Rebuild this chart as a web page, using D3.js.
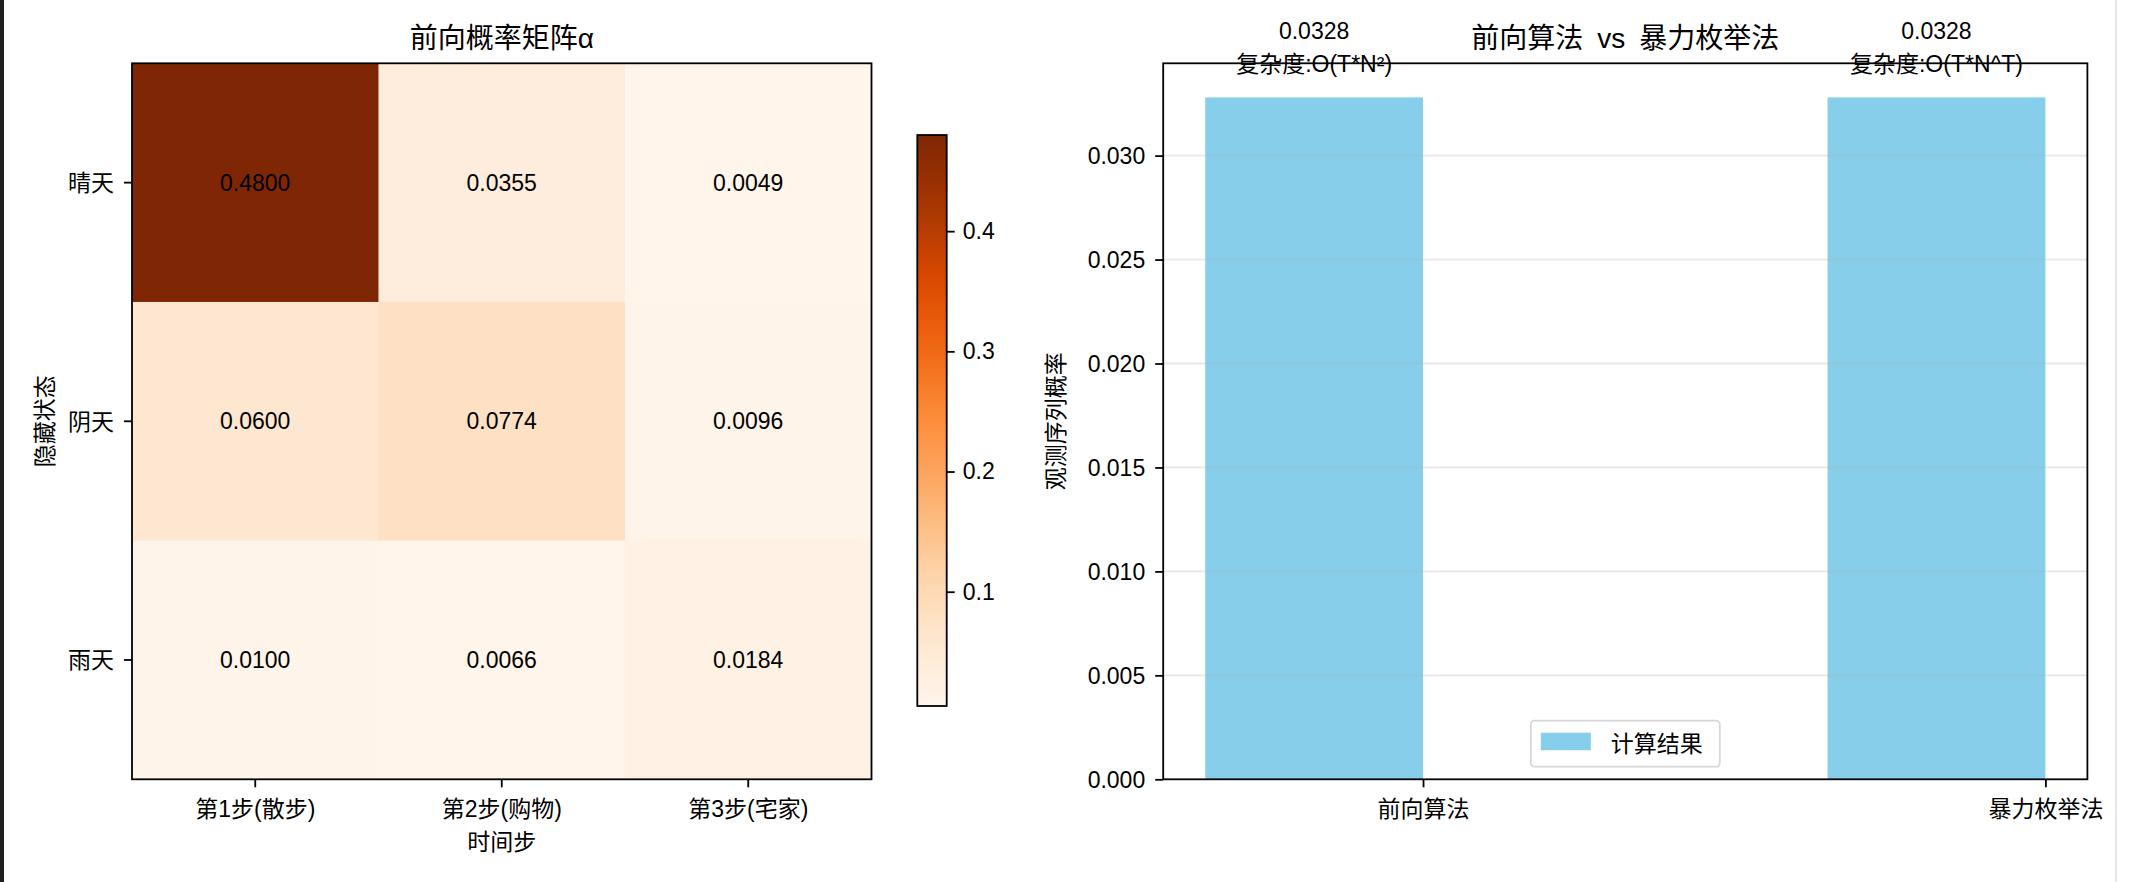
<!DOCTYPE html>
<html>
<head>
<meta charset="utf-8">
<script src="https://cdn.jsdelivr.net/npm/d3@7/dist/d3.min.js"></script>
<style>
  html, body { margin: 0; padding: 0; background: #fff; }
  svg text { font-family: "Liberation Sans", "Noto Sans CJK SC", sans-serif; fill: #000; }
</style>
</head>
<body>
<svg id="chart" width="2142" height="882"></svg>
<script>
// ---------------- data ----------------
const states = ["晴天", "阴天", "雨天"];
const steps = ["第1步(散步)", "第2步(购物)", "第3步(宅家)"];
const alphaRow1 = [0.4800, 0.0355, 0.0049];
const alphaRow2 = [0.0600, 0.0774, 0.0096];
const alphaRow3 = [0.0100, 0.0066, 0.0184];
const alphaMatrix = [alphaRow1, alphaRow2, alphaRow3];
const colorbarTicks = [0.1, 0.2, 0.3, 0.4];

const methods = ["前向算法", "暴力枚举法"];
const methodValues = [0.0328, 0.0328];
const complexities = ["O(T*N²)", "O(T*N^T)"];
const barTicks = [0, 0.005, 0.010, 0.015, 0.020, 0.025, 0.030];
const legendLabel = "计算结果";

const orangesStops = ["#fff5eb","#fee6ce","#fdd0a2","#fdae6b","#fd8d3c","#f16913","#d94801","#a63603","#7f2704"];

// ---------------- setup ----------------
const svg = d3.select("#chart");
const FS = 23, TFS = 28;

svg.append("rect").attr("x", 0).attr("y", 0).attr("width", 4).attr("height", 882).attr("fill", "#1f1f1f");
svg.append("rect").attr("x", 2115).attr("y", 0).attr("width", 2).attr("height", 882).attr("fill", "#e6e6e6");

// ================= Heatmap =================
const hm = { left: 132, right: 871.5, top: 63.3, bottom: 779.3 };
const flat = alphaMatrix.flat();
const vmin = d3.min(flat), vmax = d3.max(flat);
const cmap = d3.scaleLinear()
  .domain(orangesStops.map((_, i) => i / (orangesStops.length - 1)))
  .range(orangesStops)
  .interpolate(d3.interpolateRgb);
const norm = d3.scaleLinear().domain([vmin, vmax]).range([0, 1]).clamp(true);
const color = v => cmap(norm(v));

const xh = d3.scaleBand().domain(steps).range([hm.left, hm.right]).padding(0);
const yh = d3.scaleBand().domain(states).range([hm.top, hm.bottom]).padding(0);

const gHm = svg.append("g");
const cells = [];
alphaMatrix.forEach((row, i) => row.forEach((v, j) => cells.push({ s: states[i], t: steps[j], v })));

gHm.selectAll("rect.cell").data(cells).enter().append("rect")
  .attr("class", "cell")
  .attr("x", d => xh(d.t)).attr("y", d => yh(d.s))
  .attr("width", xh.bandwidth() + 0.5).attr("height", yh.bandwidth() + 0.5)
  .attr("fill", d => color(d.v));

gHm.selectAll("text.val").data(cells).enter().append("text")
  .attr("class", "val")
  .attr("x", d => xh(d.t) + xh.bandwidth() / 2)
  .attr("y", d => yh(d.s) + yh.bandwidth() / 2)
  .attr("text-anchor", "middle").attr("dominant-baseline", "central")
  .style("font-size", FS + "px")
  .text(d => d.v.toFixed(4));

// frame
gHm.append("rect").attr("x", hm.left).attr("y", hm.top)
  .attr("width", hm.right - hm.left).attr("height", hm.bottom - hm.top)
  .attr("fill", "none").attr("stroke", "#000").attr("stroke-width", 1.8);

// axes
const axBottomH = gHm.append("g").attr("transform", `translate(0,${hm.bottom})`)
  .call(d3.axisBottom(xh).tickSize(8).tickPadding(8));
const axLeftH = gHm.append("g").attr("transform", `translate(${hm.left},0)`)
  .call(d3.axisLeft(yh).tickSize(8).tickPadding(10));
[axBottomH, axLeftH].forEach(a => {
  a.select(".domain").remove();
  a.selectAll(".tick line").attr("stroke", "#000").attr("stroke-width", 1.8);
  a.selectAll(".tick text").style("font-size", FS + "px").attr("fill", "#000");
});
axBottomH.selectAll(".tick text").attr("dy", "0.95em");
axLeftH.selectAll(".tick text").attr("dy", "0.36em");

gHm.append("text").attr("x", (hm.left + hm.right) / 2).attr("y", 48)
  .attr("text-anchor", "middle").style("font-size", TFS + "px").text("前向概率矩阵α");
gHm.append("text").attr("x", (hm.left + hm.right) / 2).attr("y", 850)
  .attr("text-anchor", "middle").style("font-size", FS + "px").text("时间步");
gHm.append("text")
  .attr("transform", `translate(53,${(hm.top + hm.bottom) / 2}) rotate(-90)`)
  .attr("text-anchor", "middle").style("font-size", FS + "px").text("隐藏状态");

// colorbar
const cb = { left: 917.3, right: 946.7, top: 135, bottom: 706 };
const defs = svg.append("defs");
const grad = defs.append("linearGradient").attr("id", "cbgrad")
  .attr("x1", 0).attr("y1", 1).attr("x2", 0).attr("y2", 0);
d3.range(0, 1.0001, 0.05).forEach(t => {
  grad.append("stop").attr("offset", t).attr("stop-color", cmap(t));
});
svg.append("rect").attr("x", cb.left).attr("y", cb.top)
  .attr("width", cb.right - cb.left).attr("height", cb.bottom - cb.top)
  .attr("fill", "url(#cbgrad)").attr("stroke", "#000").attr("stroke-width", 1.8);
const ycb = d3.scaleLinear().domain([vmin, vmax]).range([cb.bottom, cb.top]);
const axCb = svg.append("g").attr("transform", `translate(${cb.right},0)`)
  .call(d3.axisRight(ycb).tickValues(colorbarTicks).tickFormat(d3.format(".1f")).tickSize(8).tickPadding(8));
axCb.select(".domain").remove();
axCb.selectAll(".tick line").attr("stroke", "#000").attr("stroke-width", 1.8);
axCb.selectAll(".tick text").style("font-size", FS + "px").attr("fill", "#000");

// ================= Bar chart =================
const bc = { left: 1163.2, right: 2087.4, top: 63.3, bottom: 779.3 };
const barW = 0.35;
const xMinData = -barW, xMaxData = methods.length - 1;
const xpad = (xMaxData - xMinData) * 0.05;
const xb = d3.scaleLinear().domain([xMinData - xpad, xMaxData + xpad]).range([bc.left, bc.right]);
const yb = d3.scaleLinear().domain([0, d3.max(methodValues) * 1.05]).range([bc.bottom, bc.top]);

const gB = svg.append("g");

gB.selectAll("rect.bar").data(methods).enter().append("rect")
  .attr("class", "bar")
  .attr("x", (d, i) => xb(i - barW))
  .attr("width", (d, i) => xb(i) - xb(i - barW))
  .attr("y", (d, i) => yb(methodValues[i]))
  .attr("height", (d, i) => yb(0) - yb(methodValues[i]))
  .attr("fill", "#87ceeb");

// grid (above bars)
gB.selectAll("line.grid").data(barTicks.slice(1)).enter().append("line")
  .attr("class", "grid")
  .attr("x1", bc.left).attr("x2", bc.right)
  .attr("y1", d => yb(d)).attr("y2", d => yb(d))
  .attr("stroke", "#b0b0b0").attr("stroke-opacity", 0.3).attr("stroke-width", 1.8);

// annotations
methods.forEach((m, i) => {
  const cx = xb(i - barW / 2);
  const base = yb(methodValues[i] + 0.001) - 5;
  const t = gB.append("text").attr("text-anchor", "middle").style("font-size", FS + "px");
  t.append("tspan").attr("x", cx).attr("y", base - 33).text(methodValues[i].toFixed(4));
  t.append("tspan").attr("x", cx).attr("y", base).text("复杂度:" + complexities[i]);
});

// frame
gB.append("rect").attr("x", bc.left).attr("y", bc.top)
  .attr("width", bc.right - bc.left).attr("height", bc.bottom - bc.top)
  .attr("fill", "none").attr("stroke", "#000").attr("stroke-width", 1.8);

const axBottomB = gB.append("g").attr("transform", `translate(0,${bc.bottom})`)
  .call(d3.axisBottom(xb).tickValues(d3.range(methods.length)).tickFormat(i => methods[i]).tickSize(8).tickPadding(8));
const axLeftB = gB.append("g").attr("transform", `translate(${bc.left},0)`)
  .call(d3.axisLeft(yb).tickValues(barTicks).tickFormat(d3.format(".3f")).tickSize(8).tickPadding(10));
[axBottomB, axLeftB].forEach(a => {
  a.select(".domain").remove();
  a.selectAll(".tick line").attr("stroke", "#000").attr("stroke-width", 1.8);
  a.selectAll(".tick text").style("font-size", FS + "px").attr("fill", "#000");
});
axBottomB.selectAll(".tick text").attr("dy", "0.95em");
axLeftB.selectAll(".tick text").attr("dy", "0.36em");

gB.append("text").attr("x", (bc.left + bc.right) / 2).attr("y", 48)
  .attr("text-anchor", "middle").style("font-size", TFS + "px").text("前向算法\u2002vs\u2002暴力枚举法");
gB.append("text")
  .attr("transform", `translate(1064,${(bc.top + bc.bottom) / 2}) rotate(-90)`)
  .attr("text-anchor", "middle").style("font-size", FS + "px").text("观测序列概率");

// legend
const lg = gB.append("g");
const lgW = 189, lgH = 46;
const lgX = (bc.left + bc.right) / 2 - lgW / 2, lgY = bc.bottom - 12.6 - lgH;
lg.append("rect").attr("x", lgX).attr("y", lgY).attr("width", lgW).attr("height", lgH)
  .attr("rx", 4).attr("fill", "#fff").attr("fill-opacity", 0.8)
  .attr("stroke", "#d6d6d6").attr("stroke-width", 1.8);
lg.append("rect").attr("x", lgX + 10).attr("y", lgY + 12).attr("width", 50).attr("height", 17.5)
  .attr("fill", "#87ceeb");
lg.append("text").attr("x", lgX + 80).attr("y", lgY + 23).attr("dominant-baseline", "central")
  .style("font-size", FS + "px").text(legendLabel);
</script>
</body>
</html>
